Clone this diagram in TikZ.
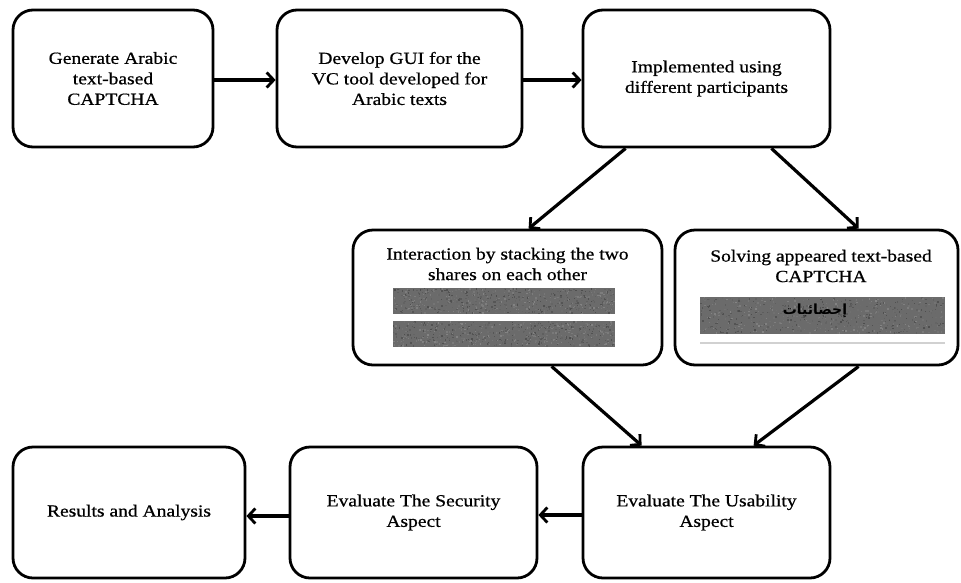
\documentclass[tikz,border=0pt]{standalone}
\usepackage{fontspec}
\setmainfont[FakeStretch=1.15,FakeBold=0.7]{Liberation Serif}
\newfontfamily\arabicfont[Script=Arabic]{DejaVu Sans}
\TeXXeTstate=1
\usetikzlibrary{arrows.meta,calc}
\tikzset{
  box/.style={draw=black, line width=2.8pt, rounded corners=20pt, fill=white,
    align=center, inner sep=0pt, font=\fontsize{17}{20.5}\selectfont},
  arr/.style={line width=3.2pt, -{Straight Barb[length=7pt,width=15pt,line width=2.8pt]}},
}
\newcommand{\noisebar}[4]{%
  \fill[black!58] (#1,#2) rectangle (#3,#4);
  \foreach \i in {1,...,700}{%
    \pgfmathsetmacro{\px}{#1+rnd*(#3-#1-1.5)}%
    \pgfmathsetmacro{\py}{#2+rnd*(#4-#2-1.5)}%
    \pgfmathsetmacro{\pg}{48+rnd*22}%
    \fill[black!\pg] (\px,\py) rectangle ++(1.4,1.4);
  }%
}
\begin{document}
\begin{tikzpicture}[x=1pt,y=-1pt]
\pgfmathsetseed{42}
\useasboundingbox (0,0) rectangle (961,582);
\fill[white] (0,0) rectangle (961,582);
% top row
\node[box, minimum width=200pt, minimum height=137pt] (b1) at (113,78.5)
  {Generate Arabic\\text-based\\CAPTCHA};
\node[box, minimum width=245pt, minimum height=137pt] (b2) at (399.5,78.5)
  {Develop GUI for the\\VC tool developed for\\Arabic texts};
\node[box, minimum width=247pt, minimum height=137pt] (b3) at (706.5,78.5)
  {Implemented using\\different participants};
% middle row
\node[box, minimum width=309pt, minimum height=135pt] (b4) at (507.5,297.5) {};
\node[box, minimum width=283pt, minimum height=135pt] (b5) at (816.5,297.5) {};
\node[align=center, inner sep=0pt, font=\fontsize{17}{20.5}\selectfont] (t4) at (507.5,264)
  {Interaction by stacking the two\\shares on each other};
\node[align=center, inner sep=0pt, font=\fontsize{17}{20.5}\selectfont] (t5) at (821,266)
  {Solving appeared text-based\\CAPTCHA};
\noisebar{393}{288}{615}{314}
\noisebar{393}{321}{615}{347}
\noisebar{700}{297}{945}{334}
\node[inner sep=0pt, font=\arabicfont\bfseries\fontsize{14}{16}\selectfont] (ar) at (815,311) {\beginR إحصائيات\endR};
\draw[black!18, line width=1.2pt] (700,343) -- (945,343);
% bottom row
\node[box, minimum width=232pt, minimum height=131pt] (b7) at (129,512.5)
  {Results and Analysis};
\node[box, minimum width=247pt, minimum height=131pt] (b8) at (413.5,512.5)
  {Evaluate The Security\\Aspect};
\node[box, minimum width=247pt, minimum height=131pt] (b9) at (706.5,512.5)
  {Evaluate The Usability\\Aspect};
% connectors
\draw[arr] ([yshift=-1.5pt]b1.east) -- ([yshift=-1.5pt]b2.west);
\draw[arr] ([yshift=-1.5pt]b2.east) -- ([yshift=-1.5pt]b3.west);
\draw[arr] ([xshift=44pt]b3.south west) -- ([xshift=177pt]b4.north west);
\draw[arr] ([xshift=-60pt]b3.south east) -- ([xshift=185pt]b5.north west);
\draw[arr] ([xshift=200pt]b4.south west) -- ([xshift=60pt]b9.north west);
\draw[arr] ([xshift=185pt]b5.south west) -- ([xshift=172pt]b9.north west);
\draw[arr] ([yshift=-2.5pt]b9.west) -- ([yshift=-2.5pt]b8.east);
\draw[arr] ([yshift=-3.5pt]b8.west) -- ([yshift=-3.5pt]b7.east);
\end{tikzpicture}
\end{document}
